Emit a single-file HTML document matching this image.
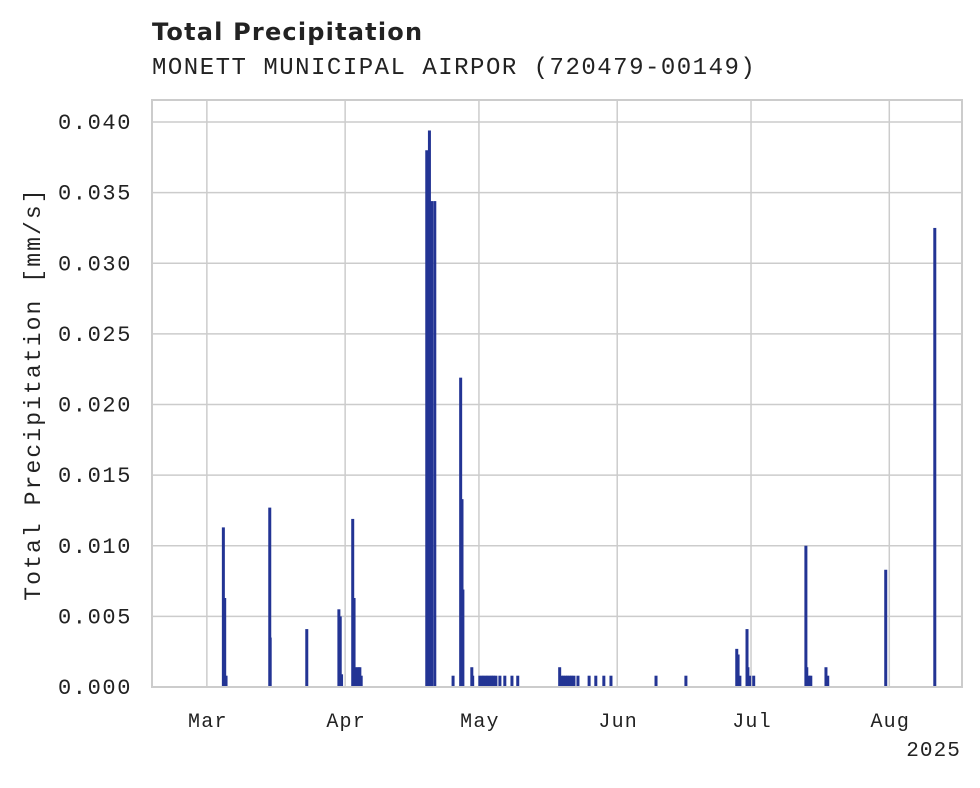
<!DOCTYPE html>
<html><head><meta charset="utf-8"><style>
body{margin:0;background:#fff;}
svg text{font-family:"Liberation Mono","DejaVu Sans Mono",monospace;fill:#222;}
</style></head><body>
<svg id="chart" width="980" height="783">
<text x="152" y="40" style="font-family:'DejaVu Sans','Liberation Sans',sans-serif;font-weight:bold;font-size:24px;letter-spacing:1.2px">Total Precipitation</text>
<text x="152" y="74" style="font-size:24px;letter-spacing:1.5px">MONETT MUNICIPAL AIRPOR (720479-00149)</text>
<g id="grid"></g>
<g id="bars"></g>
<rect x="152" y="100" width="810" height="587" fill="none" stroke="#ccc" stroke-width="2"/>
<g id="axes"></g>
<text transform="translate(40,394) rotate(-90)" text-anchor="middle" style="font-size:23px;letter-spacing:2.1px">Total Precipitation [mm/s]</text>
<text x="961" y="756" text-anchor="end" style="font-size:21px;letter-spacing:1.1px">2025</text>
</svg>
<script>
const days=[3.7,4.0,4.3,14.1,14.2,22.4,29.6,29.9,30.2,32.7,33.0,33.4,33.9,34.3,34.6,49.3,49.7,49.9,50.2,50.4,51.1,55.2,56.9,57.2,57.4,59.4,59.6,61.2,61.7,62.1,62.6,63.0,63.5,63.9,64.3,64.8,65.7,66.8,68.4,69.7,79.1,79.6,80.0,80.5,80.9,81.4,81.8,82.3,83.2,85.7,87.2,89.0,90.6,100.7,107.4,118.8,119.1,119.5,121.1,121.3,121.7,122.6,134.3,134.5,135.0,135.4,138.8,139.2,152.2,163.2];
const values=[0.0113,0.0063,0.0008,0.0127,0.0035,0.0041,0.0055,0.005,0.0009,0.0119,0.0063,0.0014,0.0014,0.0014,0.0008,0.038,0.0252,0.0394,0.0147,0.0344,0.0344,0.0008,0.0219,0.0133,0.0069,0.0014,0.0008,0.0008,0.0008,0.0008,0.0008,0.0008,0.0008,0.0008,0.0008,0.0008,0.0008,0.0008,0.0008,0.0008,0.0014,0.0008,0.0008,0.0008,0.0008,0.0008,0.0008,0.0008,0.0008,0.0008,0.0008,0.0008,0.0008,0.0008,0.0008,0.0027,0.0023,0.0008,0.0041,0.0014,0.0008,0.0008,0.01,0.0014,0.0008,0.0008,0.0014,0.0008,0.0083,0.0325];
const yTicks=[0,0.005,0.01,0.015,0.02,0.025,0.03,0.035,0.04];
const xTickDays=[0,31,61,92,122,153];
const xTickLabels=["Mar","Apr","May","Jun","Jul","Aug"];
const NS="http://www.w3.org/2000/svg";
const x=d=>152+(d+12.3)*(810/181.6);
const y=v=>687-v*14125;
const grid=document.getElementById('grid'),axes=document.getElementById('axes'),bars=document.getElementById('bars');
function mk(t,a,p){const e=document.createElementNS(NS,t);for(const k in a)e.setAttribute(k,a[k]);p.appendChild(e);return e;}
yTicks.forEach(v=>{
 const l=mk('line',{x1:152,x2:962,y1:y(v),y2:y(v),stroke:'#ccc','stroke-width':1.5},grid);
 
 
 const t=mk('text',{x:132,y:y(v)+7,'text-anchor':'end','font-size':'22px','letter-spacing':'1.6px'},axes);
 t.textContent=v.toFixed(3);
 
 
});
xTickDays.forEach((d,i)=>{
 const l=mk('line',{x1:x(d),x2:x(d),y1:100,y2:687,stroke:'#ccc','stroke-width':1.5},grid);
 
 
 const t=mk('text',{x:x(d)+1,y:727,'text-anchor':'middle','font-size':'20px','letter-spacing':'1.2px'},axes);
 t.textContent=xTickLabels[i];
 
 
});
days.forEach((d,i)=>{
 const r=mk('rect',{x:x(d)-1.5,y:y(values[i]),width:3,height:687-y(values[i]),fill:'#233494'},bars);
 
 
});
</script>
</body></html>
